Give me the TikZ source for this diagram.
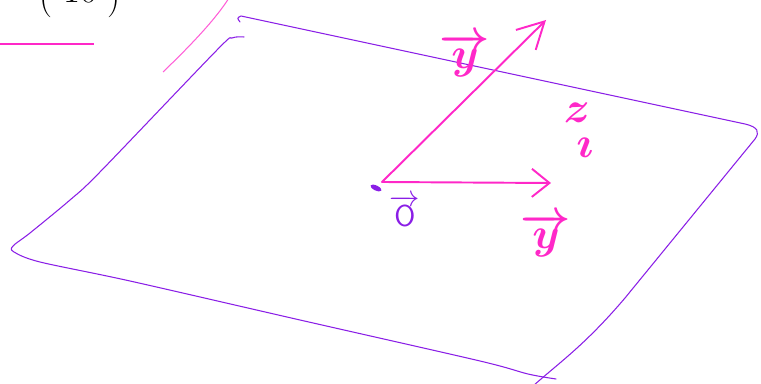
\documentclass[tikz,border=0pt]{standalone}
\usepackage{tikz}
\usetikzlibrary{positioning}
\usetikzlibrary{arrows.meta}
\definecolor{purple}{RGB}{138,30,230}
\definecolor{pink}{RGB}{255,40,200}
\definecolor{lightpink}{RGB}{255,95,215}

\begin{document}
\begin{tikzpicture}[x=0.02cm, y=-0.02cm,
    plane/.style={draw=purple, line width=0.6pt, line cap=round, line join=round},
    vecarrow/.style={pink, line width=1.1pt, line cap=round, -{Straight Barb[length=15pt,width=16pt]}},
    handtext/.style={pink, font=\fontsize{36}{36}\selectfont\boldmath}]
    \useasboundingbox (0,0) rectangle (761,384);

    % Vector (10) o goc tren ben trai, bi cat mat phan tren
    \node[anchor=base, inner sep=0pt, font=\fontsize{21}{21}\selectfont] (rowvec) at (80,3) {\raisebox{-3pt}{(}\hspace{6pt}10\hspace{6pt}\raisebox{-3pt}{)}};
    \draw[pink, line width=0.7pt] (0,44) -- (94,44); % Gach ngang duoi vector
    \draw[lightpink, line width=0.6pt] (163,72) .. controls (190,46) and (215,20) .. (229,-2); % Net mau hong mo

    % Mat phang: canh tren va canh phai
    \draw[plane] (240,22) .. controls (237,18) .. (241,16) -- (745,124) .. controls (758,127) and (760,132) .. (755,139) -- (625,298) .. controls (585,345) and (560,362) .. (533,386);
    % Mat phang: canh duoi va canh trai
    \draw[plane] plot[smooth] coordinates {(556,379) (528,374) (480,361) (300,320) (130,281) (40,262) (14,252) (13,246) (30,233) (70,200) (100,172) (217,50) (232,38) (244,37)};

    % Goc O va hai vector
    \coordinate (O) at (382,182);
    \coordinate (ytip) at (546,20);
    \coordinate (xtip) at (551,183);
    \fill[purple, rotate around={-25:(376,188)}] (376,188) ellipse [x radius=6, y radius=2.5]; % Cham tai goc
    \draw[vecarrow] (O) -- (ytip); % Vector cheo
    \draw[vecarrow, -{Straight Barb[length=10pt,width=16pt]}] (O) -- (xtip); % Vector ngang

    % Nhan
    \node[purple, font=\fontsize{19}{19}\selectfont\bfseries] (olabel) at (405,211) {$\overrightarrow{\mathsf{O}}$};
    \node[handtext] (ylabel) at (465,55) {$\overrightarrow{y}$};
    \node[handtext] (ylabelb) at (546,235) {$\overrightarrow{y}$};
    \node[handtext] (zlabel) at (577,113) {$z$};
    \node[pink, font=\fontsize{26}{26}\selectfont\boldmath] (ilabel) at (585,148) {$\imath$};
\end{tikzpicture}
\end{document}
